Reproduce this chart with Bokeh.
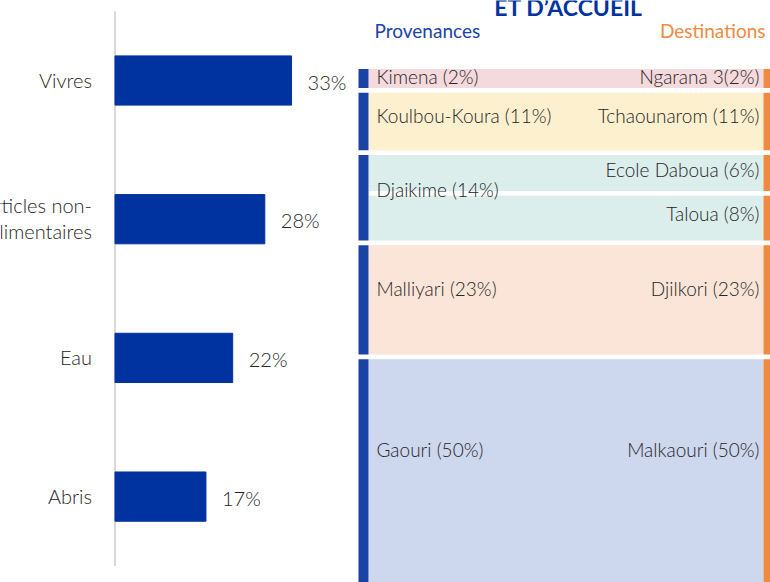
from bokeh.plotting import figure
from bokeh.layouts import row
from bokeh.models import ColumnDataSource, Range1d
from bokeh.core.properties import value
from bokeh.embed import file_html
from bokeh.resources import INLINE

# ---------------- data ----------------
categories = ["Vivres", "Articles non-\nalimentaires", "Eau", "Abris"]
shares = [33, 28, 22, 17]
share_labels = ["33%", "28%", "22%", "17%"]

sources = ["Kimena", "Koulbou-Koura", "Djaikime", "Malliyari", "Gaouri"]
source_pct = [2, 11, 14, 23, 50]
destinations = ["Ngarana 3", "Tchaounarom", "Ecole Daboua", "Taloua", "Djilkori", "Malkaouri"]
dest_pct = [2, 11, 6, 8, 23, 50]
link_source = ["Kimena", "Koulbou-Koura", "Djaikime", "Djaikime", "Malliyari", "Gaouri"]
link_dest = ["Ngarana 3", "Tchaounarom", "Ecole Daboua", "Taloua", "Djilkori", "Malkaouri"]
link_value = [2, 11, 6, 8, 23, 50]

FONT = "Lato Light, Lato"
TXT = "#262626"
BAR_BLUE = "#0033a0"
NODE_BLUE = "#1b43a6"
ORANGE = "#f08a40"
link_colors = {"Kimena": "#f4d9dd", "Koulbou-Koura": "#fdf0cf", "Djaikime": "#dbeeec",
               "Malliyari": "#fbe5d8", "Gaouri": "#cdd7ee"}

H = 582

# ---------------- left: bar chart ----------------
WL = 355
px_per_pct = 5.35
zero_px = 114.5
band_px = 138.7
top_center_px = 80
left = figure(width=WL, height=H, output_backend="svg", toolbar_location=None,
              min_border=0, outline_line_color=None,
              x_range=Range1d(-zero_px / px_per_pct, (WL - zero_px) / px_per_pct),
              y_range=Range1d(-top_center_px / band_px + H / band_px, -top_center_px / band_px))
left.axis.visible = False
left.grid.visible = False
left.background_fill_color = "white"
left.border_fill_color = "white"

n = len(categories)
ys = list(range(n))
bsrc = ColumnDataSource(dict(y=ys, v=shares, cat=categories, lab=share_labels))
left.segment(x0=0, y0=-0.5, x1=0, y1=n - 0.5, line_color="#d9d9d9", line_width=2)
left.hbar(y="y", left=0, right="v", height=0.355, source=bsrc, fill_color=BAR_BLUE,
          line_color=BAR_BLUE)
left.text(x=0, y="y", text="cat", source=bsrc, x_offset=-23, y_offset=-1, text_align="right",
          text_baseline="middle", text_font=value(FONT), text_font_size="20px",
          text_color=TXT, text_line_height=1.1)
left.text(x="v", y="y", text="lab", source=bsrc, x_offset=16, y_offset=1, text_align="left",
          text_baseline="middle", text_font=value(FONT), text_font_size="20px",
          text_color=TXT)

# ---------------- right: sankey ----------------
WR = 770 - WL
unit_px = 4.3       # pixels per percent
pad = 2.4           # extra thickness per link (percent units)
gap = 1.1           # gap between nodes (percent units)
top_px = 68.5
right = figure(width=WR, height=H, output_backend="svg", toolbar_location=None,
               min_border=0, outline_line_color=None,
               x_range=Range1d(0, WR),
               y_range=Range1d(-top_px / unit_px + H / unit_px, -top_px / unit_px))
right.axis.visible = False
right.grid.visible = False
right.background_fill_color = "white"
right.border_fill_color = "white"

link_top, link_bot = [], []
pos = 0.0
for i, v in enumerate(link_value):
    if i > 0:
        pos += gap
    link_top.append(pos)
    pos += v + pad
    link_bot.append(pos)

src_top, src_bot = [], []
for s in sources:
    idx = [i for i, ls in enumerate(link_source) if ls == s]
    src_top.append(min(link_top[i] for i in idx))
    src_bot.append(max(link_bot[i] for i in idx))
dst_top, dst_bot = [], []
for d in destinations:
    idx = [i for i, ld in enumerate(link_dest) if ld == d]
    dst_top.append(min(link_top[i] for i in idx))
    dst_bot.append(max(link_bot[i] for i in idx))

x_src0, x_src1 = 3, 13
x_dst0, x_dst1 = 408, 418

lsrc = ColumnDataSource(dict(top=link_top, bottom=link_bot,
                             color=[link_colors[s] for s in link_source]))
right.quad(left=x_src1, right=x_dst0, top="top", bottom="bottom", source=lsrc,
           fill_color="color", line_color=None)

ssrc = ColumnDataSource(dict(top=src_top, bottom=src_bot,
                             lab=[f"{s} ({p}%)" for s, p in zip(sources, source_pct)],
                             ly=[t + 0.40 * (b - t) for t, b in zip(src_top, src_bot)]))
right.quad(left=x_src0, right=x_src1, top="top", bottom="bottom", source=ssrc,
           fill_color=NODE_BLUE, line_color=None)
right.text(x=x_src1 + 8, y="ly", text="lab", source=ssrc, text_align="left",
           text_baseline="middle", text_font=value(FONT), text_font_size="19px",
           text_color=TXT)

dst_labels = []
for d, p in zip(destinations, dest_pct):
    dst_labels.append(f"{d}({p}%)" if d == "Ngarana 3" else f"{d} ({p}%)")
dsrc = ColumnDataSource(dict(top=dst_top, bottom=dst_bot, lab=dst_labels,
                             ly=[t + 0.40 * (b - t) for t, b in zip(dst_top, dst_bot)]))
right.quad(left=x_dst0, right=x_dst1, top="top", bottom="bottom", source=dsrc,
           fill_color=ORANGE, line_color=None)
right.text(x=x_dst0 - 4, y="ly", text="lab", source=dsrc, text_align="right",
           text_baseline="middle", text_font=value(FONT), text_font_size="19px",
           text_color=TXT)

def ypx(px):
    return (px - top_px) / unit_px

right.text(x=[213], y=[ypx(6)], text=["ET D\u2019ACCUEIL"], text_align="center",
           text_baseline="alphabetic", text_font=value("Lato"), text_font_size="23px",
           text_font_style="bold", text_color=BAR_BLUE)
right.text(x=[19], y=[ypx(30)], text=["Provenances"], text_align="left",
           text_baseline="middle", text_font=value("Lato"), text_font_size="19px",
           text_color=NODE_BLUE)
right.text(x=[410], y=[ypx(30)], text=["Destinations"], text_align="right",
           text_baseline="middle", text_font=value("Lato"), text_font_size="19px",
           text_color=ORANGE)

layout = row(left, right, spacing=0)
open("out.html", "w").write(file_html(layout, INLINE))
